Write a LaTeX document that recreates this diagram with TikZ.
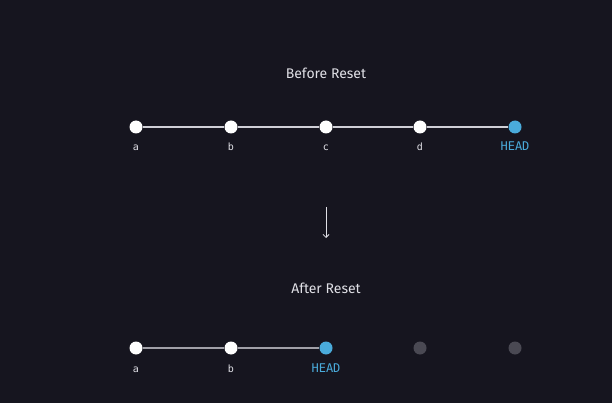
\documentclass[tikz,border=0pt]{standalone}
\usepackage{fontspec}
\setmainfont{Fira Sans}
\newfontfamily\monof{DejaVu Sans Mono}
\usetikzlibrary{arrows.meta}
\definecolor{bg}{HTML}{16151F}
\definecolor{headblue}{HTML}{4AABDB}
\definecolor{ghost}{HTML}{4A4953}
\definecolor{linec}{HTML}{CFCFD6}
\definecolor{txt}{HTML}{E0E0E6}
\begin{document}
\begin{tikzpicture}[x=1pt,y=-1pt,
  commit/.style={circle,fill=white,minimum size=13pt,inner sep=0pt},
  headc/.style={circle,fill=headblue,minimum size=13pt,inner sep=0pt},
  ghostc/.style={circle,fill=ghost,minimum size=13pt,inner sep=0pt},
  lbl/.style={text=txt,font=\monof\fontsize{10}{11}\selectfont,anchor=base},
  headlbl/.style={text=headblue,font=\monof\fontsize{12}{13}\selectfont,anchor=base},
  title/.style={text=txt,font=\fontsize{14}{16}\selectfont,anchor=base},
  link/.style={draw=linec,line width=1.2pt}]
\fill[bg] (0,0) rectangle (612,403);
\useasboundingbox (0,0) rectangle (612,403);
\node[title] (t1) at (326,79) {Before Reset};
\node[title] (t2) at (326,293) {After Reset};
% top row
\node[commit] (a1) at (136,127) {};
\node[commit] (b1) at (231,127) {};
\node[commit] (c1) at (326,127) {};
\node[commit] (d1) at (420,127) {};
\node[headc] (h1) at (515,127) {};
\draw[link] (a1) -- (b1);
\draw[link] (b1) -- (c1);
\draw[link] (c1) -- (d1);
\draw[link] (d1) -- (h1);
\node[lbl] (la1) at (136,151) {a};
\node[lbl] (lb1) at (231,151) {b};
\node[lbl] (lc1) at (326,151) {c};
\node[lbl] (ld1) at (420,151) {d};
\node[headlbl] (lh1) at (515,151) {HEAD};
% arrow
\coordinate (ar1) at (326,207);
\coordinate (ar2) at (326,238);
\draw[draw=txt,line width=0.8pt,-{Straight Barb[length=3pt,width=6pt]}] (ar1) -- (ar2);
% bottom row
\node[commit] (a2) at (136,348) {};
\node[commit] (b2) at (231,348) {};
\node[headc] (h2) at (326,348) {};
\node[ghostc] (g1) at (420,348) {};
\node[ghostc] (g2) at (515,348) {};
\draw[link,draw=linec!75!bg] (a2) -- (b2);
\draw[link,draw=linec!75!bg] (b2) -- (h2);
\node[lbl] (la2) at (136,372) {a};
\node[lbl] (lb2) at (231,372) {b};
\node[headlbl] (lh2) at (326,372) {HEAD};
\end{tikzpicture}
\end{document}
